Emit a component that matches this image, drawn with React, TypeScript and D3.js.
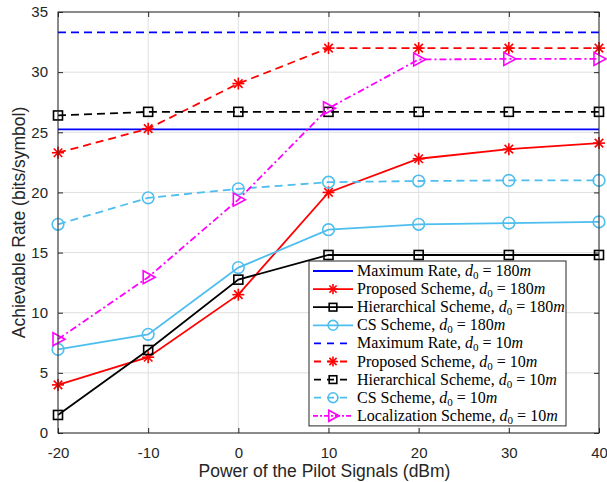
import React, { useEffect, useRef } from 'react';
import * as d3 from 'd3';

// x values (dBm)
const power = [-20, -10, 0, 10, 20, 30, 40];

// rates (bits/symbol)
const maxRate180 = [25.25, 25.25, 25.25, 25.25, 25.25, 25.25, 25.25];
const proposed180 = [4.0, 6.3, 11.5, 20.0, 22.8, 23.6, 24.1];
const hier180 = [1.5, 6.9, 12.75, 14.8, 14.8, 14.8, 14.8];
const cs180 = [6.95, 8.2, 13.75, 16.9, 17.35, 17.45, 17.55];
const maxRate10 = [33.3, 33.3, 33.3, 33.3, 33.3, 33.3, 33.3];
const proposed10 = [23.3, 25.3, 29.05, 32.0, 32.0, 32.0, 32.0];
const hier10 = [26.4, 26.7, 26.7, 26.7, 26.7, 26.7, 26.7];
const cs10 = [17.35, 19.55, 20.3, 20.85, 20.95, 21.0, 21.0];
const local10 = [7.8, 12.95, 19.4, 27.0, 31.05, 31.1, 31.1];

const xTicks = [-20, -10, 0, 10, 20, 30, 40];
const yTicks = [0, 5, 10, 15, 20, 25, 30, 35];

const BLUE = '#0000ff';
const RED = '#ff0000';
const BLACK = '#000000';
const CYAN = '#4dbeee';
const MAGENTA = '#ff00ff';

const series = [
  { name: 'Maximum Rate', d0: '180', values: maxRate180, color: BLUE, dash: null, marker: 'none' },
  { name: 'Proposed Scheme', d0: '180', values: proposed180, color: RED, dash: null, marker: 'star' },
  { name: 'Hierarchical Scheme', d0: '180', values: hier180, color: BLACK, dash: null, marker: 'square' },
  { name: 'CS Scheme', d0: '180', values: cs180, color: CYAN, dash: null, marker: 'circle' },
  { name: 'Maximum Rate', d0: '10', values: maxRate10, color: BLUE, dash: '8,5', marker: 'none' },
  { name: 'Proposed Scheme', d0: '10', values: proposed10, color: RED, dash: '8,5', marker: 'star' },
  { name: 'Hierarchical Scheme', d0: '10', values: hier10, color: BLACK, dash: '8,5', marker: 'square' },
  { name: 'CS Scheme', d0: '10', values: cs10, color: CYAN, dash: '8,5', marker: 'circle' },
  { name: 'Localization Scheme', d0: '10', values: local10, color: MAGENTA, dash: '7,3,2,3', marker: 'triangle' },
];

function drawMarker(g, type, x, y, color, s = 1) {
  if (type === 'star') {
    const r = 6 * s;
    [0, 45, 90, 135].forEach(a => {
      const rad = (a * Math.PI) / 180;
      g.append('line')
        .attr('x1', x - r * Math.cos(rad)).attr('y1', y - r * Math.sin(rad))
        .attr('x2', x + r * Math.cos(rad)).attr('y2', y + r * Math.sin(rad))
        .attr('stroke', color).attr('stroke-width', 1.6);
    });
  } else if (type === 'square') {
    const h = 4.5 * s;
    g.append('rect')
      .attr('x', x - h).attr('y', y - h)
      .attr('width', 2 * h).attr('height', 2 * h)
      .attr('fill', 'none').attr('stroke', color).attr('stroke-width', 1.6);
  } else if (type === 'circle') {
    g.append('circle')
      .attr('cx', x).attr('cy', y).attr('r', 5.8 * s)
      .attr('fill', 'none').attr('stroke', color).attr('stroke-width', 1.6);
  } else if (type === 'triangle') {
    g.append('path')
      .attr('d', `M${x - 5 * s},${y - 6.5 * s}L${x + 7 * s},${y}L${x - 5 * s},${y + 6.5 * s}Z`)
      .attr('fill', 'none').attr('stroke', color).attr('stroke-width', 1.6);
  }
}

const App = () => {
  const svgRef = useRef(null);

  useEffect(() => {
    const svg = d3.select(svgRef.current);
    svg.selectAll('*').remove();

    const left = 58, right = 599, top = 12, bottom = 433;

    const xScale = d3.scaleLinear().domain([-20, 40]).range([left, right]);
    const yScale = d3.scaleLinear().domain([0, 35]).range([bottom, top]);

    // background
    svg.append('rect').attr('width', 607).attr('height', 482).attr('fill', '#ffffff');

    // grid
    const grid = svg.append('g');
    xTicks.forEach(t => {
      grid.append('line')
        .attr('x1', xScale(t)).attr('x2', xScale(t))
        .attr('y1', top).attr('y2', bottom)
        .attr('stroke', '#dfdfdf').attr('stroke-width', 1);
    });
    yTicks.forEach(t => {
      grid.append('line')
        .attr('x1', left).attr('x2', right)
        .attr('y1', yScale(t)).attr('y2', yScale(t))
        .attr('stroke', '#dfdfdf').attr('stroke-width', 1);
    });

    // series
    const plot = svg.append('g');
    const line = d3.line<number>()
      .x((d, i) => xScale(power[i]))
      .y(d => yScale(d));

    series.forEach(s => {
      plot.append('path')
        .attr('d', line(s.values))
        .attr('fill', 'none')
        .attr('stroke', s.color)
        .attr('stroke-width', 1.8)
        .attr('stroke-dasharray', s.dash);
      if (s.marker !== 'none') {
        s.values.forEach((v, i) => drawMarker(plot, s.marker, xScale(power[i]), yScale(v), s.color));
      }
    });

    // axes box
    const axisColor = '#262626';
    svg.append('rect')
      .attr('x', left).attr('y', top)
      .attr('width', right - left).attr('height', bottom - top)
      .attr('fill', 'none').attr('stroke', axisColor).attr('stroke-width', 1);

    const xAxis = d3.axisBottom(xScale).tickValues(xTicks).tickSize(-5).tickSizeOuter(0)
      .tickPadding(14).tickFormat(d => String(d));
    const xg = svg.append('g').attr('transform', `translate(0,${bottom})`).call(xAxis);
    const yAxis = d3.axisLeft(yScale).tickValues(yTicks).tickSize(-5).tickSizeOuter(0)
      .tickPadding(10).tickFormat(d => String(d));
    const yg = svg.append('g').attr('transform', `translate(${left},0)`).call(yAxis);
    [xg, yg].forEach(g => {
      g.select('.domain').remove();
      g.selectAll('line').attr('stroke', axisColor);
      g.selectAll('text')
        .attr('fill', axisColor)
        .style('font-family', 'Liberation Sans, Arial, sans-serif')
        .style('font-size', '15px');
    });
    // top & right ticks
    const tg = svg.append('g').attr('transform', `translate(0,${top})`)
      .call(d3.axisTop(xScale).tickValues(xTicks).tickSize(-5).tickSizeOuter(0).tickFormat(() => ''));
    const rg = svg.append('g').attr('transform', `translate(${right},0)`)
      .call(d3.axisRight(yScale).tickValues(yTicks).tickSize(-5).tickSizeOuter(0).tickFormat(() => ''));
    [tg, rg].forEach(g => {
      g.select('.domain').remove();
      g.selectAll('line').attr('stroke', axisColor);
    });

    // axis labels
    svg.append('text')
      .attr('x', (left + right) / 2 - 4).attr('y', 477)
      .attr('text-anchor', 'middle')
      .attr('fill', axisColor)
      .style('font-family', 'Liberation Sans, Arial, sans-serif')
      .style('font-size', '17.5px')
      .text('Power of the Pilot Signals (dBm)');
    svg.append('text')
      .attr('transform', `translate(25,${(top + bottom) / 2}) rotate(-90)`)
      .attr('text-anchor', 'middle')
      .attr('fill', axisColor)
      .style('font-family', 'Liberation Sans, Arial, sans-serif')
      .style('font-size', '17.5px')
      .text('Achievable Rate (bits/symbol)');

    // legend
    const lx = 309, ly = 261, lw = 257, rowH = 18.1;
    const legend = svg.append('g');
    legend.append('rect')
      .attr('x', lx).attr('y', ly)
      .attr('width', lw).attr('height', rowH * series.length + 2)
      .attr('fill', '#ffffff').attr('stroke', axisColor).attr('stroke-width', 1);

    series.forEach((s, i) => {
      const cy = ly + 10 + i * rowH;
      legend.append('line')
        .attr('x1', lx + 4).attr('x2', lx + 44)
        .attr('y1', cy).attr('y2', cy)
        .attr('stroke', s.color).attr('stroke-width', 1.8)
        .attr('stroke-dasharray', s.dash ? (s.marker === 'triangle' ? '5,2,2,2' : '7,6') : null)
        .attr('stroke-dashoffset', s.dash && s.marker !== 'triangle' ? -1 : 0);
      if (s.marker !== 'none') drawMarker(legend, s.marker, lx + 24, cy, s.color, 0.85);
      const t = legend.append('text')
        .attr('x', lx + 48).attr('y', cy + 5)
        .attr('fill', '#000000')
        .style('font-family', 'Liberation Serif, Times New Roman, serif')
        .style('font-size', '16px');
      t.append('tspan').text(`${s.name}, `);
      t.append('tspan').attr('font-style', 'italic').text('d');
      t.append('tspan').attr('dy', 3).style('font-size', '11px').text('0');
      t.append('tspan').attr('dy', -3).text(` = ${s.d0}`);
      t.append('tspan').attr('font-style', 'italic').text('m');
    });
  }, []);

  return (
    <svg
      ref={svgRef}
      width={607}
      height={482}
      style={{ position: 'absolute', left: 0, top: 0 }}
    />
  );
};

export default App;
